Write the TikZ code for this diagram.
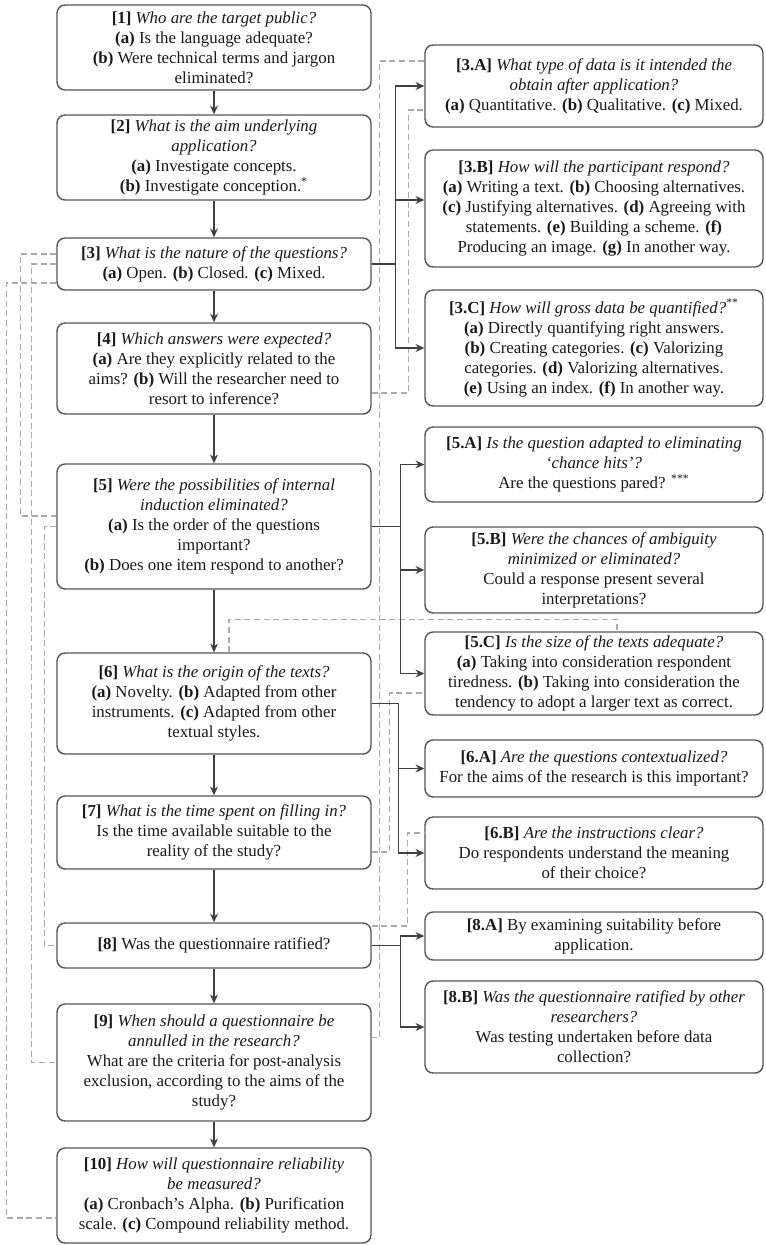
\documentclass[tikz,border=0pt]{standalone}
\usepackage{fontspec}
\setmainfont{Liberation Serif}
\usetikzlibrary{arrows.meta}
\definecolor{boxgray}{HTML}{555555}
\definecolor{dashgray}{HTML}{ABABAB}

\begin{document}
\begin{tikzpicture}[x=0.02cm, y=-0.02cm,
  qbox/.style={draw=boxgray, line width=0.8pt, rounded corners=0.16cm, align=center, inner sep=2pt, minimum width=6.28cm, font=\fontsize{9.6}{11.4}\selectfont, text=black!90},
  sidebox/.style={qbox, minimum width=6.76cm},
  arr/.style={draw=black!75, line width=0.7pt, -{Stealth[length=5pt,width=4.5pt]}},
  back/.style={draw=dashgray, line width=0.8pt, dash pattern=on 3.5pt off 2pt}]

  \useasboundingbox (0,0) rectangle (765,1245);

  \node[qbox, minimum height=1.7cm] (n1) at (214,47.5) {\textbf{[1]} \textit{Who are the target public?}\\ \textbf{(a)} Is the language adequate?\\ \textbf{(b)} Were technical terms and jargon\\ eliminated?};
  \node[qbox, minimum height=1.7cm] (n2) at (214,157.5) {\textbf{[2]} \textit{What is the aim underlying}\\ \textit{application?}\\ \textbf{(a)} Investigate concepts.\\ \textbf{(b)} Investigate conception.\textsuperscript{*}};
  \node[qbox, minimum height=1.04cm] (n3) at (214,264) {\textbf{[3]} \textit{What is the nature of the questions?}\\ \textbf{(a)} Open. \textbf{(b)} Closed. \textbf{(c)} Mixed.};
  \node[qbox, minimum height=1.82cm] (n4) at (214,368.5) {\textbf{[4]} \textit{Which answers were expected?}\\ \textbf{(a)} Are they explicitly related to the\\ aims? \textbf{(b)} Will the researcher need to\\ resort to inference?};
  \node[qbox, minimum height=2.5cm] (n5) at (214,526.5) {\textbf{[5]} \textit{Were the possibilities of internal}\\ \textit{induction eliminated?}\\ \textbf{(a)} Is the order of the questions\\ important?\\ \textbf{(b)} Does one item respond to another?};
  \node[qbox, minimum height=2.02cm] (n6) at (214,703.5) {\textbf{[6]} \textit{What is the origin of the texts?}\\ \textbf{(a)} Novelty. \textbf{(b)} Adapted from other\\ instruments. \textbf{(c)} Adapted from other\\ textual styles.};
  \node[qbox, minimum height=1.46cm] (n7) at (214,832.5) {\textbf{[7]} \textit{What is the time spent on filling in?}\\ Is the time available suitable to the\\ reality of the study?};
  \node[qbox, minimum height=0.9cm] (n8) at (214,945.5) {\textbf{[8]} Was the questionnaire ratified?};
  \node[qbox, minimum height=2.34cm] (n9) at (214,1062.5) {\textbf{[9]} \textit{When should a questionnaire be}\\ \textit{annulled in the research?}\\ What are the criteria for post-analysis\\ exclusion, according to the aims of the\\ study?};
  \node[qbox, minimum height=1.9cm] (n10) at (214,1195.5) {\textbf{[10]} \textit{How will questionnaire reliability}\\ \textit{be measured?}\\ \textbf{(a)} Cronbach's Alpha. \textbf{(b)} Purification\\ scale. \textbf{(c)} Compound reliability method.};

  \node[sidebox, minimum height=1.64cm] (n3a) at (594,86) {\textbf{[3.A]} \textit{What type of data is it intended the}\\ \textit{obtain after application?}\\ \textbf{(a)} Quantitative. \textbf{(b)} Qualitative. \textbf{(c)} Mixed.};
  \node[sidebox, minimum height=2.34cm] (n3b) at (594,208.5) {\textbf{[3.B]} \textit{How will the participant respond?}\\ \textbf{(a)} Writing a text. \textbf{(b)} Choosing alternatives.\\ \textbf{(c)} Justifying alternatives. \textbf{(d)} Agreeing with\\ statements. \textbf{(e)} Building a scheme. \textbf{(f)}\\ Producing an image. \textbf{(g)} In another way.};
  \node[sidebox, minimum height=2.32cm] (n3c) at (594,348) {\textbf{[3.C]} \textit{How will gross data be quantified?}\textsuperscript{**}\\ \textbf{(a)} Directly quantifying right answers.\\ \textbf{(b)} Creating categories. \textbf{(c)} Valorizing\\ categories. \textbf{(d)} Valorizing alternatives.\\ \textbf{(e)} Using an index. \textbf{(f)} In another way.};
  \node[sidebox, minimum height=1.5cm] (n5a) at (594,464.5) {\textbf{[5.A]} \textit{Is the question adapted to eliminating}\\ \textit{`chance hits'?}\\ Are the questions pared? \textsuperscript{***}};
  \node[sidebox, minimum height=1.72cm] (n5b) at (594,570) {\textbf{[5.B]} \textit{Were the chances of ambiguity}\\ \textit{minimized or eliminated?}\\ Could a response present several\\ interpretations?};
  \node[sidebox, minimum height=1.66cm] (n5c) at (594,673.5) {\textbf{[5.C]} \textit{Is the size of the texts adequate?}\\ \textbf{(a)} Taking into consideration respondent\\ tiredness. \textbf{(b)} Taking into consideration the\\ tendency to adopt a larger text as correct.};
  \node[sidebox, minimum height=1.14cm] (n6a) at (594,768.5) {\textbf{[6.A]} \textit{Are the questions contextualized?}\\ For the aims of the research is this important?};
  \node[sidebox, minimum height=1.44cm] (n6b) at (594,853) {\textbf{[6.B]} \textit{Are the instructions clear?}\\ Do respondents understand the meaning\\ of their choice?};
  \node[sidebox, minimum height=0.96cm] (n8a) at (594,936) {\textbf{[8.A]} By examining suitability before\\ application.};
  \node[sidebox, minimum height=1.84cm] (n8b) at (594,1027) {\textbf{[8.B]} \textit{Was the questionnaire ratified by other}\\ \textit{researchers?}\\ Was testing undertaken before data\\ collection?};

  \draw[back] ([yshift=0.5cm]n3a.west) -- ++(-45,0) |- ([yshift=0.5cm]n9.east);
  \draw[back] ([yshift=-0.49cm]n4.east) -- ++(37,0) |- ([yshift=-0.48cm]n3a.west);
  \draw[back] ([yshift=0.2cm]n3.west) -- ++(-36,0) |- ([yshift=0.21cm]n5.west);
  \draw[back] (n3.west) -- ++(-25,0) |- (n9.west);
  \draw[back] ([yshift=-0.38cm]n3.west) -- ++(-50,0) |- ([yshift=-0.45cm]n10.west);
  \draw[back] (n5.west) -- ++(-12,0) |- (n8.west);
  \draw[back] ([xshift=0.3cm]n6.north) -- ++(0,-33) -| ([xshift=0.46cm]n5c.north);
  \draw[back] ([yshift=-0.39cm]n7.east) -- ++(18,0) |- ([yshift=-0.39cm]n5c.west);
  \draw[back] ([yshift=0.39cm]n8.east) -- ++(36,0) |- ([yshift=0.4cm]n6b.west);

  \draw[arr] (n1) -- (n2);
  \draw[arr] (n2) -- (n3);
  \draw[arr] (n3) -- (n4);
  \draw[arr] (n4) -- (n5);
  \draw[arr] (n5) -- (n6);
  \draw[arr] (n6) -- (n7);
  \draw[arr] (n7) -- (n8);
  \draw[arr] (n8) -- (n9);
  \draw[arr] (n9) -- (n10);

  \draw[arr] (n3.east) -- ++(24,0) |- (n3a.west);
  \draw[arr] (n3.east) -- ++(24,0) |- ([yshift=0.17cm]n3b.west);
  \draw[arr] (n3.east) -- ++(24,0) |- (n3c.west);
  \draw[arr] (n5.east) -- ++(29,0) |- (n5a.west);
  \draw[arr] (n5.east) -- ++(29,0) |- (n5b.west);
  \draw[arr] (n5.east) -- ++(29,0) |- (n5c.west);
  \draw[arr] (n6.east) -- ++(27,0) |- (n6a.west);
  \draw[arr] (n6.east) -- ++(27,0) |- (n6b.west);
  \draw[arr] (n8.east) -- ++(29,0) |- (n8a.west);
  \draw[arr] (n8.east) -- ++(29,0) |- (n8b.west);

\end{tikzpicture}
\end{document}
